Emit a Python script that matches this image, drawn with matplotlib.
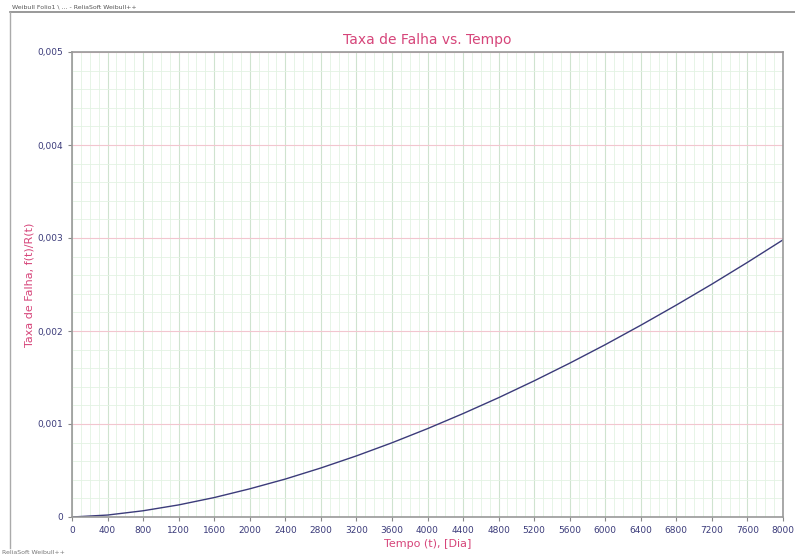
import matplotlib.pyplot as plt
from matplotlib.ticker import MultipleLocator, FuncFormatter
from matplotlib.lines import Line2D

# Failure rate vs. time (days)
tempo = [0, 400, 800, 1200, 1600, 2000, 2400, 2800, 3200, 3600, 4000,
         4400, 4800, 5200, 5600, 6000, 6400, 6800, 7200, 7600, 8000]
taxa = [0.0, 0.000021, 0.000067, 0.000130, 0.000209, 0.000303, 0.000408,
        0.000527, 0.000657, 0.000798, 0.000950, 0.001112, 0.001283,
        0.001464, 0.001654, 0.001853, 0.002062, 0.002279, 0.002504,
        0.002738, 0.002980]

pink = '#d6457a'
navy = '#3b3b7a'

fig = plt.figure(figsize=(7.95, 5.58), dpi=100)
ax = fig.add_axes([72 / 795, 1 - 517 / 558, 711 / 795, 465 / 558])

ax.plot(tempo, taxa, color=navy, lw=1.0)

ax.set_xlim(0, 8000)
ax.set_ylim(0, 0.005)
ax.xaxis.set_major_locator(MultipleLocator(400))
ax.xaxis.set_minor_locator(MultipleLocator(100))
ax.yaxis.set_major_locator(MultipleLocator(0.001))
ax.yaxis.set_minor_locator(MultipleLocator(0.0002))
ax.yaxis.set_major_formatter(FuncFormatter(
    lambda v, p: '0' if abs(v) < 1e-12 else f'{v:.3f}'.replace('.', ',')))

ax.grid(which='minor', color='#e3f2e3', lw=0.6)
ax.grid(which='major', axis='x', color='#cfe3cf', lw=0.8)
ax.grid(which='major', axis='y', color='#f2c6cf', lw=0.8)
ax.set_axisbelow(True)

ax.tick_params(which='major', labelsize=6.5, labelcolor=navy, color='#888888', length=3)
ax.tick_params(which='minor', length=0)
for s in ax.spines.values():
    s.set_color('#999999')
    s.set_linewidth(1.2)

ax.set_title('Taxa de Falha vs. Tempo', color=pink, fontsize=10, pad=6)
ax.set_xlabel('Tempo (t), [Dia]', color=pink, fontsize=8, labelpad=3)
ax.set_ylabel('Taxa de Falha, f(t)/R(t)', color=pink, fontsize=8, labelpad=2)

# window frame around the plot
fig.add_artist(Line2D([10 / 795, 1], [1 - 12 / 558, 1 - 12 / 558], color='#888888', lw=1.2))
fig.add_artist(Line2D([10 / 795, 10 / 795], [1 - 12 / 558, 1 - 548 / 558], color='#aaaaaa', lw=1.0))
fig.text(12 / 795, 1 - 7 / 558, 'Weibull Folio1 \\ ... - ReliaSoft Weibull++',
         fontsize=4.5, color='#555555', va='center')
fig.text(2 / 795, 1 - 553 / 558, 'ReliaSoft Weibull++', fontsize=4.5,
         color='#777777', va='center')

fig.savefig('out.png', dpi=100)
